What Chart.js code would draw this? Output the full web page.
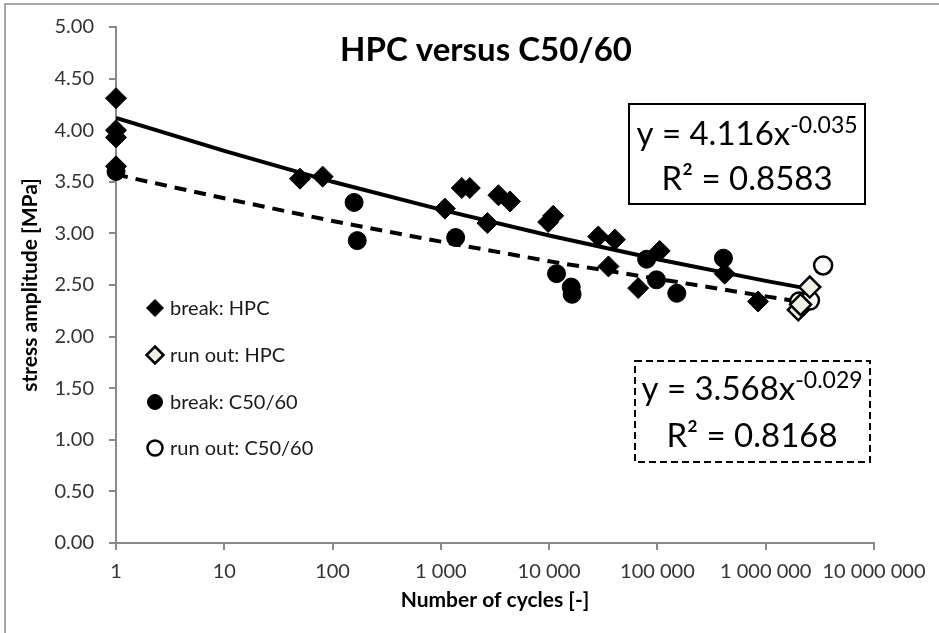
<!DOCTYPE html>
<html>
<head>
<meta charset="utf-8">
<script src="https://cdn.jsdelivr.net/npm/chart.js"></script>
<style>
  body { margin: 0; background: #fff; }
  #wrap { width: 939px; height: 633px; position: relative; }
</style>
</head>
<body>
<div id="wrap"><canvas id="chart"></canvas></div>
<script>
// break: HPC
var hpcBreakX = [1, 1, 1, 1, 50, 81, 1090, 1560, 1850, 2690, 3400, 4350, 9800, 10900, 28400, 40500, 35300, 66400, 105000, 418000, 850000]
var hpcBreakY = [4.31, 4.00, 3.93, 3.65, 3.53, 3.55, 3.24, 3.44, 3.44, 3.10, 3.37, 3.31, 3.11, 3.17, 2.97, 2.94, 2.68, 2.47, 2.83, 2.61, 2.34]
// run out: HPC
var hpcRunX = [2000000, 2100000, 2550000]
var hpcRunY = [2.26, 2.31, 2.48]
// break: C50/60
var c50BreakX = [1, 158, 169, 1370, 11700, 16000, 16300, 79500, 98000, 151000, 407000]
var c50BreakY = [3.60, 3.30, 2.93, 2.96, 2.61, 2.48, 2.41, 2.75, 2.55, 2.42, 2.76]
// run out: C50/60
var c50RunX = [2040000, 2560000, 3390000]
var c50RunY = [2.34, 2.35, 2.69]
// trend lines
var hpcTrendX = [1, 10, 100, 1000, 10000, 100000, 1000000, 2300000]
var hpcTrendY = [4.12, 3.80, 3.50, 3.23, 2.98, 2.75, 2.54, 2.47]
var c50TrendX = [1, 10, 100, 1000, 10000, 100000, 1000000, 2000000]
var c50TrendY = [3.57, 3.34, 3.12, 2.92, 2.73, 2.56, 2.39, 2.34]

var xTicks = [1, 10, 100, 1000, 10000, 100000, 1000000, 10000000]
var xTickLabels = ['1', '10', '100', '1 000', '10 000', '100 000', '1 000 000', '10 000 000']

var seriesLabels = ['break: HPC', 'run out: HPC', 'break: C50/60', 'run out: C50/60']
var titleText = 'HPC versus C50/60'
var xTitle = 'Number of cycles [-]'
var yTitle = 'stress amplitude [MPa]'
var eqHpc = ['y = 4.116x', '-0.035', 'R² = 0.8583']
var eqC50 = ['y = 3.568x', '-0.029', 'R² = 0.8168']

function pts(xs, ys){
  var out = []
  for(var i=0;i<xs.length;i++){
    out.push({x: xs[i], y: ys[i]})
  }
  return out
}

var markerStyles = [
  {shape: 'rectRot', fill: '#000', stroke: '#000', r: 10.5, lw: 1},
  {shape: 'rectRot', fill: '#efefe6', stroke: '#000', r: 10.5, lw: 2.5},
  {shape: 'circle', fill: '#000', stroke: '#000', r: 9, lw: 1},
  {shape: 'circle', fill: '#fff', stroke: '#000', r: 9, lw: 2.5}
]

function marker(c, st, x, y, r){
  c.save()
  c.beginPath()
  if(st.shape == 'circle'){
    c.arc(x, y, r, 0, Math.PI*2)
  } else {
    c.moveTo(x, y - r); c.lineTo(x + r, y); c.lineTo(x, y + r); c.lineTo(x - r, y); c.closePath()
  }
  c.fillStyle = st.fill
  c.fill()
  c.lineWidth = st.lw
  c.strokeStyle = st.stroke
  c.stroke()
  c.restore()
}

function drawEq(c, cx, y1, y2, supY, eq, dashed, box){
  c.save()
  c.strokeStyle = '#000'
  c.lineWidth = 2
  if(dashed) c.setLineDash([7, 4])
  c.strokeRect(box[0], box[1], box[2] - box[0], box[3] - box[1])
  c.setLineDash([])
  c.fillStyle = '#000'
  c.textBaseline = 'alphabetic'
  c.textAlign = 'left'
  c.font = '33px Lato'
  var w1 = c.measureText(eq[0]).width
  c.font = '23px Lato'
  var w2 = c.measureText(eq[1]).width
  var x0 = cx - (w1 + w2) / 2
  c.font = '33px Lato'
  c.fillText(eq[0], x0, y1)
  c.font = '23px Lato'
  c.fillText(eq[1], x0 + w1, supY)
  c.font = '33px Lato'
  c.textAlign = 'center'
  c.fillText(eq[2], cx, y2)
  c.restore()
}

var extras = {
  id: 'extras',
  afterDraw: function(chart){
    var c = chart.ctx
    c.save()
    // chart area border
    c.strokeStyle = '#8a8a8a'
    c.lineWidth = 1.5
    c.strokeRect(5, 4, 1000, 1000)
    // title
    c.fillStyle = '#000'
    c.font = 'bold 33px Lato'
    c.textAlign = 'center'
    c.textBaseline = 'middle'
    c.fillText(titleText, 486, 50)
    // legend
    var ly = [308, 355, 402, 448]
    c.font = '20px Lato'
    c.textAlign = 'left'
    for(var i=0;i<seriesLabels.length;i++){
      var st = markerStyles[i]
      marker(c, st, 155, ly[i], st.shape == 'circle' ? 7.5 : 8.5)
      c.fillStyle = '#1a1a1a'
      c.fillText(seriesLabels[i], 170, ly[i] + 1)
    }
    c.restore()
    drawEq(c, 747, 145, 190, 133, eqHpc, false, [629, 104, 865, 204])
    drawEq(c, 752, 400, 447, 388, eqC50, true, [635, 361, 870, 462])
  }
}

var datasets = []
var xs = [hpcBreakX, hpcRunX, c50BreakX, c50RunX]
var ys = [hpcBreakY, hpcRunY, c50BreakY, c50RunY]
for(var i=0;i<4;i++){
  var st = markerStyles[i]
  datasets.push({
    label: seriesLabels[i],
    data: pts(xs[i], ys[i]),
    pointStyle: st.shape,
    pointRadius: st.r,
    pointHoverRadius: st.r,
    pointBackgroundColor: st.fill,
    pointBorderColor: st.stroke,
    pointBorderWidth: st.lw,
    showLine: false,
    clip: false,
    order: 1
  })
}
datasets.push({
  label: 'trend HPC',
  data: pts(hpcTrendX, hpcTrendY),
  showLine: true,
  borderColor: '#000',
  borderWidth: 4,
  pointRadius: 0,
  order: 5
})
datasets.push({
  label: 'trend C50/60',
  data: pts(c50TrendX, c50TrendY),
  showLine: true,
  borderColor: '#000',
  borderWidth: 4,
  borderDash: [12, 8],
  pointRadius: 0,
  order: 5
})

var myChart = new Chart(document.getElementById('chart'), {
  type: 'scatter',
  data: { datasets: datasets },
  plugins: [extras],
  options: {
    responsive: true,
    maintainAspectRatio: false,
    animation: false,
    layout: { padding: { left: 14, right: 65, top: 19, bottom: 0 } },
    plugins: {
      legend: { display: false },
      tooltip: { enabled: false }
    },
    scales: {
      x: {
        type: 'logarithmic',
        min: 1,
        max: 10000000,
        afterBuildTicks: function(scale){
          scale.ticks = xTicks.map(function(v){ return {value: v} })
        },
        afterFit: function(scale){ scale.height = 90 },
        ticks: {
          autoSkip: false,
          maxRotation: 0,
          padding: 10,
          color: '#333',
          font: { family: 'Lato', size: 20 },
          callback: function(v){
            var k = xTicks.indexOf(v)
            return k >= 0 ? xTickLabels[k] : ''
          }
        },
        grid: { drawOnChartArea: false, drawTicks: true, tickLength: 7, color: '#8a8a8a', lineWidth: 2 },
        border: { color: '#8a8a8a', width: 2 },
        title: {
          display: true,
          text: xTitle,
          color: '#000',
          font: { family: 'Lato', size: 21, weight: 'bold' },
          padding: { top: 0, bottom: 20 }
        }
      },
      y: {
        min: 0,
        max: 5,
        afterFit: function(scale){ scale.width = 102 },
        ticks: {
          stepSize: 0.5,
          padding: 15,
          color: '#333',
          font: { family: 'Lato', size: 20 },
          callback: function(v){ return v.toFixed(2) }
        },
        grid: { drawOnChartArea: false, drawTicks: true, tickLength: 7, color: '#8a8a8a', lineWidth: 2 },
        border: { color: '#8a8a8a', width: 2 },
        title: {
          display: true,
          text: yTitle,
          color: '#000',
          font: { family: 'Lato', size: 21, weight: 'bold' },
          padding: { top: 4, bottom: 0 }
        }
      }
    }
  }
})
</script>
</body>
</html>
